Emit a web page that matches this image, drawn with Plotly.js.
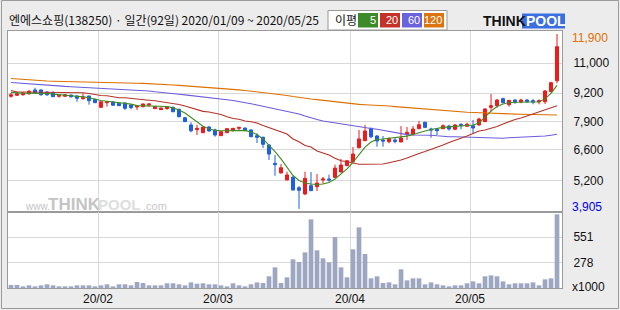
<!DOCTYPE html>
<html><head><meta charset="utf-8">
<script src="https://cdn.plot.ly/plotly-3.0.1.min.js"></script>
<style>html,body{margin:0;padding:0;background:#ececec;overflow:hidden}#c{width:620px;height:310px}</style>
</head><body><div id="c"></div>
<script>
const dates = [
"2020-01-09","2020-01-10","2020-01-13","2020-01-14","2020-01-15","2020-01-16","2020-01-17","2020-01-20","2020-01-21","2020-01-22","2020-01-23","2020-01-28","2020-01-29","2020-01-30","2020-01-31",
"2020-02-03","2020-02-04","2020-02-05","2020-02-06","2020-02-07","2020-02-10","2020-02-11","2020-02-12","2020-02-13","2020-02-14","2020-02-17","2020-02-18","2020-02-19","2020-02-20","2020-02-21","2020-02-24","2020-02-25","2020-02-26","2020-02-27","2020-02-28",
"2020-03-02","2020-03-03","2020-03-04","2020-03-05","2020-03-06","2020-03-09","2020-03-10","2020-03-11","2020-03-12","2020-03-13","2020-03-16","2020-03-17","2020-03-18","2020-03-19","2020-03-20","2020-03-23","2020-03-24","2020-03-25","2020-03-26","2020-03-27","2020-03-30","2020-03-31",
"2020-04-01","2020-04-02","2020-04-03","2020-04-06","2020-04-07","2020-04-08","2020-04-09","2020-04-10","2020-04-13","2020-04-14","2020-04-16","2020-04-17","2020-04-20","2020-04-21","2020-04-22","2020-04-23","2020-04-24","2020-04-27","2020-04-28","2020-04-29",
"2020-05-04","2020-05-06","2020-05-07","2020-05-08","2020-05-11","2020-05-12","2020-05-13","2020-05-14","2020-05-15","2020-05-18","2020-05-19","2020-05-20","2020-05-21","2020-05-22","2020-05-25"];

const openP = [9050,9095,9120,9170,9340,9340,9245,9215,9050,9050, 9110,9065,8940,9065,8910,8545,8755,8790,8730,8745, 8650,8560,8575,8650,8485,8440,8485,8545,8455,8070, 7740,7525,7385,7645,7510,7250,7385,7510,7585,7600, 7510,7250,7175,6825,5985,5545,5225,5360,4870,4585, 4965,4920,5225,5270,5345,5590,5880,6060,6700,7020, 7590,7235,7050,6975,7050,6960,7315,7325,7570,7860, 7555,7540,7570,7690,7540,7770,7680,7705,7740,7890, 8545,8620,8940,8665,8880,8790,8880,8850,8790,8800, 9260,9760];
const highP = [9200,9260,9245,9340,9440,9370,9280,9280,9120,9140, 9120,9095,9185,9065,8940,8800,8800,8820,8745,8760, 8665,8605,8710,8710,8605,8530,8605,8575,8485,8105, 7860,7740,7660,7690,7570,7450,7590,7600,7645,7615, 7540,7360,7205,6855,6365,5955,5605,5375,4950,5605, 5590,5500,5360,5465,5925,6185,6140,6730,7510,7740, 7590,7280,7235,7175,7175,7690,7645,7690,7920,7890, 7615,7590,7770,7750,7785,7815,7845,7965,8070,8500, 9155,8925,8985,8880,8910,8940,8925,8925,8910,9340, 9715,11900];
const lowP = [8985,9065,9080,9110,9185,9080,9065,9015,8985,9015, 8985,8800,8895,8665,8755,8530,8575,8620,8605,8425, 8455,8425,8545,8575,8470,8425,8440,8320,8090,7875, 7405,7280,7370,7420,7205,7235,7370,7430,7510,7465, 7175,6915,6685,6140,5420,5530,5225,4765,3905,4540, 4735,4720,5055,5145,5330,5575,5865,6045,6675,7005, 7130,6745,6745,6900,6900,6960,7050,7250,7540,7615, 7155,7280,7540,7480,7510,7540,7660,7360,7705,7875, 8345,8530,8730,8575,8700,8730,8755,8685,8685,8700, 9230,9645];
const closeP = [9120,9170,9200,9280,9200,9120,9120,9030,9095,9120, 9030,8960,8985,8850,8755,8800,8800,8640,8620,8500, 8530,8605,8700,8700,8575,8515,8575,8345,8115,7890, 7475,7585,7645,7465,7280,7430,7570,7585,7630,7480, 7205,7175,6855,6410,5925,5785,5455,4765,4755,5300, 4735,5085,5270,5225,5770,5910,6105,6410,7100,7465, 7200,7005,7005,7110,6990,7145,7405,7555,7750,7630, 7510,7480,7705,7555,7740,7725,7770,7600,8010,8470, 8620,8880,8755,8865,8790,8880,8800,8790,8850,9290, 9670,11315];
const volume = [33,33,18,29,18,29,40,29,18,18, 18,29,29,29,18,29,40,18,40,40, 29,65,54,29,29,29,51,51,40,29, 61,47,51,40,40,29,18,51,29,18, 40,61,54,127,224,54,116,311,282,387, 745,409,322,278,553,224,116,420,658,369, 105,127,54,61,40,203,83,105,105,40, 61,40,29,18,29,29,51,72,51,127, 137,127,72,40,51,51,51,61,29,94, 105,800];
const ma5 = [9230,9200,9190,9195,9194,9190,9180,9150,9115,9100, 9075,9045,9035,8985,8912,8860,8825,8790,8770,8740, 8690,8625,8610,8620,8600,8590,8580,8520,8423,8285, 8070,7870,7680,7565,7490,7475,7480,7490,7505,7490, 7420,7300,7100,6830,6520,6190,5820,5430,5200,5090, 5040,5020,5040,5110,5270,5480,5730,6030,6370,6730, 6960,7080,7100,7130,7150,7180,7230,7300,7390,7460, 7530,7590,7630,7650,7665,7690,7715,7740,7830,8100, 8370,8580,8700,8765,8780,8785,8790,8790,8800,8930, 9180,9550];
const ma20 = [9314,9246,9246,9246,9232,9232,9232,9232,9223,9214, 9214,9214,9214,9177,9122,9086,9077,9017,8985,8985, 8949,8912,8903,8871,8848,8812,8766,8729,8674,8606, 8514,8423,8360,8330,8286,8217,8117,8035,7998,7920, 7888,7829,7715,7623,7532,7418,7326,7098,6974,6800, 6732,6549,6458,6367,6216,6106,6060,6000,5941,5941, 5941,5941,5955,6015,6070,6138,6229,6344,6435,6527, 6618,6709,6824,6938,7029,7121,7235,7349,7463,7509, 7578,7669,7783,7898,7989,8057,8149,8240,8309,8400, 8514,8619];
const ma60 = [9680,9657,9634,9616,9597,9575,9552,9534,9515,9502, 9488,9474,9456,9438,9419,9410,9396,9383,9369,9360, 9337,9314,9300,9291,9255,9218,9195,9163,9141,9113, 9086,9054,9026,8999,8971,8935,8894,8857,8816,8761, 8706,8651,8592,8537,8483,8428,8377,8318,8240,8149, 8057,7989,7920,7875,7829,7769,7724,7678,7646,7614, 7578,7541,7496,7440,7381,7326,7299,7280,7280,7280, 7271,7244,7217,7203,7198,7189,7175,7162,7143,7130, 7130,7130,7134,7152,7166,7175,7175,7175,7189,7235, 7271,7312];
const ma120 = [9863,9840,9817,9794,9780,9762,9748,9739,9730,9721, 9716,9712,9703,9698,9694,9684,9675,9666,9657,9648, 9643,9643,9639,9630,9611,9597,9588,9565,9547,9529, 9515,9497,9474,9447,9429,9410,9387,9364,9342,9314, 9282,9255,9227,9200,9177,9131,9086,9040,8994,8958, 8926,8898,8866,8834,8802,8761,8725,8697,8679,8664, 8656,8647,8629,8606,8579,8555,8533,8510,8487,8460, 8437,8419,8396,8377,8364,8345,8323,8309,8295,8277, 8268,8259,8250,8240,8236,8227,8218,8208,8204,8199, 8195,8195];
const priceTickVals = [10560, 9200, 7900, 6600, 5200];
const priceTickText = ["11,000", "9,200", "7,900", "6,600", "5,200"];
const volTickVals = [278, 551];
const volTickText = ["278", "551"];
const title = "엔에스쇼핑(138250) · 일간(92일) 2020/01/09 ~ 2020/05/25";
const maNames = ["5", "20", "60", "120"];
const maColors = ["#3f8c22", "#b83228", "#6a5ddc", "#dc7000"];
const maBoxColors = ["#3c8a28", "#c43228", "#6a62dc", "#dc7410"];

const idx = dates.map((d, i) => i);
const monthVals = [], monthText = [];
dates.forEach((d, i) => {
  if (i > 0 && d.slice(5, 7) !== dates[i - 1].slice(5, 7)) {
    monthVals.push(i - 0.5);
    monthText.push(d.slice(2, 4) + "/" + d.slice(5, 7));
  }
});

const L = 8, T = 31, W = 554, H = 257;
const px = X => (X - L) / W;
const py = Y => (T + H - Y) / H;
const splitY = py(212);

const traces = [
  {type: 'bar', x: idx, y: volume, xaxis: 'x', yaxis: 'y2', width: 0.78,
   marker: {color: '#9ea7c1', line: {width: 0}}, hoverinfo: 'skip'},
  {type: 'candlestick', x: idx, open: openP, high: highP, low: lowP, close: closeP,
   xaxis: 'x', yaxis: 'y', whiskerwidth: 0, hoverinfo: 'skip',
   increasing: {line: {color: '#f01a1a', width: 1}, fillcolor: '#f01a1a'},
   decreasing: {line: {color: '#1d5fe4', width: 1}, fillcolor: '#1d5fe4'}}
];
const maSeries = [ma120, ma60, ma20, ma5];
const maSeriesColors = [maColors[3], maColors[2], maColors[1], maColors[0]];
maSeries.forEach((arr, k) => {
  traces.push({type: 'scatter', mode: 'lines', x: idx, y: arr, xaxis: 'x', yaxis: 'y',
    line: {color: maSeriesColors[k], width: 1.1}, hoverinfo: 'skip'});
});

const annFont = {family: 'Liberation Sans, Arial, sans-serif', size: 12, color: '#111'};
const annotations = [
  {xref: 'paper', yref: 'paper', x: px(7), y: py(20), xanchor: 'left', yanchor: 'middle', showarrow: false,
   text: title, font: {family: 'Noto Sans CJK KR', size: 12, color: '#111'}},
  {xref: 'paper', yref: 'paper', x: px(333), y: py(20), xanchor: 'left', yanchor: 'middle', showarrow: false,
   text: '이평', font: {family: 'Noto Sans CJK KR', size: 12, color: '#111'}},
  {xref: 'paper', yref: 'y', x: px(570), y: Math.max(...highP), yshift: -4, xanchor: 'left', yanchor: 'middle', showarrow: false,
   text: Math.max(...highP).toLocaleString('en-US'), font: Object.assign({}, annFont, {color: '#e07000'})},
  {xref: 'paper', yref: 'y', x: px(570), y: Math.min(...lowP), yshift: 2, xanchor: 'left', yanchor: 'middle', showarrow: false,
   text: Math.min(...lowP).toLocaleString('en-US'), font: Object.assign({}, annFont, {color: '#0000ee'})},
  {xref: 'paper', yref: 'paper', x: px(570), y: py(287), xanchor: 'left', yanchor: 'middle', showarrow: false,
   text: 'x1000', font: annFont},
  {xref: 'paper', yref: 'paper', x: px(481), y: py(21), xanchor: 'left', yanchor: 'middle', showarrow: false,
   text: '<b>THINK</b>', font: {family: 'Liberation Sans, Arial', size: 14, color: '#111'}},
  {xref: 'paper', yref: 'paper', x: px(524), y: py(21), xanchor: 'left', yanchor: 'middle', showarrow: false,
   text: '<b>POOL</b>', font: {family: 'Liberation Sans, Arial', size: 14, color: '#ffffff'}},
  {xref: 'paper', yref: 'paper', x: px(23), y: py(206), xanchor: 'left', yanchor: 'middle', showarrow: false,
   text: 'www.', font: {family: 'Liberation Sans, Arial', size: 10, color: '#c4c4c4'}},
  {xref: 'paper', yref: 'paper', x: px(46), y: py(204), xanchor: 'left', yanchor: 'middle', showarrow: false,
   text: '<b>THINK</b>', font: {family: 'Liberation Sans, Arial', size: 17, color: '#c4c4c4'}},
  {xref: 'paper', yref: 'paper', x: px(96), y: py(204), xanchor: 'left', yanchor: 'middle', showarrow: false,
   text: '<b>POOL</b>', font: {family: 'Liberation Sans, Arial', size: 15, color: '#dedede'}},
  {xref: 'paper', yref: 'paper', x: px(141), y: py(206), xanchor: 'left', yanchor: 'middle', showarrow: false,
   text: '.com', font: {family: 'Liberation Sans, Arial', size: 11, color: '#c8c8c8'}}
];
const shapes = [
  {type: 'rect', xref: 'paper', yref: 'paper', x0: px(1.5), x1: px(618.5), y0: py(0.5), y1: py(308.5),
   line: {color: '#9a9a9a', width: 1}, fillcolor: 'rgba(0,0,0,0)'},
  {type: 'rect', xref: 'paper', yref: 'paper', x0: px(328), x1: px(447), y0: py(10.5), y1: py(30),
   line: {color: '#999', width: 1}, fillcolor: '#ffffff'},
  {type: 'rect', xref: 'paper', yref: 'paper', x0: px(522), x1: px(565), y0: py(13.5), y1: py(28.5),
   line: {width: 0}, fillcolor: '#3b6ee0'}
];
const boxX = [358, 380, 402, 424];
maNames.forEach((n, k) => {
  shapes.push({type: 'rect', xref: 'paper', yref: 'paper', x0: px(boxX[k]), x1: px(boxX[k] + 20),
    y0: py(13), y1: py(27.5), line: {width: 0}, fillcolor: maBoxColors[k]});
  annotations.push({xref: 'paper', yref: 'paper', x: px(boxX[k] + 20), y: py(20.3), xanchor: 'right', yanchor: 'middle',
    showarrow: false, text: n, font: {family: 'Liberation Sans, Arial', size: 11, color: '#ffffff'}});
});

const gridC = '#d9d9d9', lineC = '#9a9a9a';
const layout = {
  width: 620, height: 310,
  margin: {l: L, r: 620 - L - W, t: T, b: 310 - T - H, pad: 0},
  paper_bgcolor: '#ececec', plot_bgcolor: '#ffffff',
  showlegend: false, boxgap: 0.28, bargap: 0.2,
  xaxis: {type: 'linear', range: [-0.5, 91.83], anchor: 'y2', domain: [0, 1],
    tickvals: monthVals, ticktext: monthText, ticks: '', showgrid: true, gridcolor: gridC, gridwidth: 1,
    zeroline: false, showline: true, linecolor: lineC, linewidth: 1, mirror: 'all',
    rangeslider: {visible: false}, tickfont: annFont, fixedrange: true},
  yaxis: {domain: [splitY, 1], anchor: 'x', side: 'right', range: [3762, 12033],
    tickvals: priceTickVals, ticktext: priceTickText, ticks: '', ticklabelstandoff: 8,
    showgrid: true, gridcolor: gridC, zeroline: false, showline: true, linecolor: lineC, linewidth: 1, mirror: 'all',
    tickfont: annFont, fixedrange: true},
  yaxis2: {domain: [0, splitY], anchor: 'x', side: 'right', range: [0, 825],
    tickvals: volTickVals, ticktext: volTickText, ticks: '', ticklabelstandoff: 8,
    showgrid: true, gridcolor: gridC, zeroline: false, showline: true, linecolor: lineC, linewidth: 1, mirror: 'all',
    tickfont: annFont, fixedrange: true},
  annotations: annotations, shapes: shapes
};
Plotly.newPlot('c', traces, layout, {staticPlot: true, displayModeBar: false});
</script></body></html>
